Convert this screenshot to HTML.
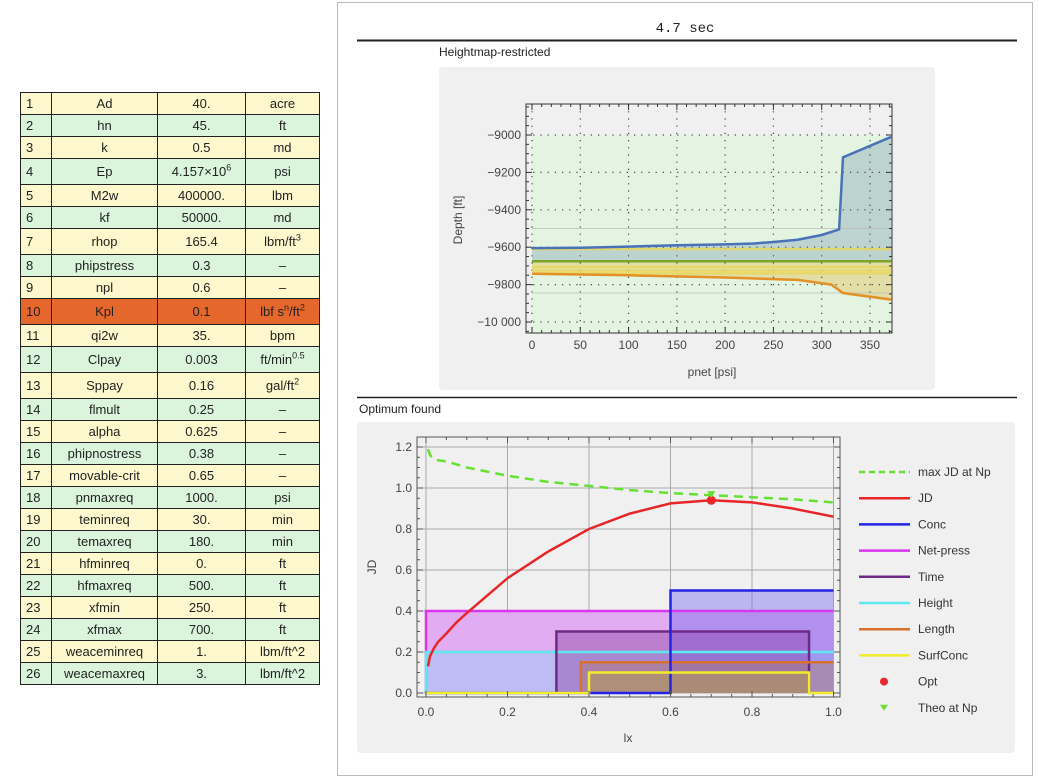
<!DOCTYPE html>
<html><head><meta charset="utf-8"><style>
body{margin:0;width:1039px;height:779px;background:#fff;position:relative;overflow:hidden;font-family:"Liberation Sans",sans-serif}
table{position:absolute;left:20px;top:92px;border-collapse:collapse;font-size:13px;color:#222}
td{border:1px solid #222;text-align:center;padding:0;height:21px;line-height:16px}
td.n{width:31px;text-align:left;padding-left:5px;box-sizing:border-box}
td.a{width:105px}td.b{width:87px}td.c{width:73px}
tr.y td{background:#fdf8cd}tr.g td{background:#daf5dc}tr.o td{background:#e6672b}
tr.t td{height:25px}
sup{font-size:9px;line-height:0}
svg{position:absolute;left:0;top:0}
</style></head><body>
<table>
<tr class="y"><td class="n">1</td><td class="a">Ad</td><td class="b">40.</td><td class="c">acre</td></tr>
<tr class="g"><td class="n">2</td><td class="a">hn</td><td class="b">45.</td><td class="c">ft</td></tr>
<tr class="y"><td class="n">3</td><td class="a">k</td><td class="b">0.5</td><td class="c">md</td></tr>
<tr class="g t"><td class="n">4</td><td class="a">Ep</td><td class="b">4.157×10<sup>6</sup></td><td class="c">psi</td></tr>
<tr class="y"><td class="n">5</td><td class="a">M2w</td><td class="b">400000.</td><td class="c">lbm</td></tr>
<tr class="g"><td class="n">6</td><td class="a">kf</td><td class="b">50000.</td><td class="c">md</td></tr>
<tr class="y t"><td class="n">7</td><td class="a">rhop</td><td class="b">165.4</td><td class="c">lbm/ft<sup>3</sup></td></tr>
<tr class="g"><td class="n">8</td><td class="a">phipstress</td><td class="b">0.3</td><td class="c">–</td></tr>
<tr class="y"><td class="n">9</td><td class="a">npl</td><td class="b">0.6</td><td class="c">–</td></tr>
<tr class="o t"><td class="n">10</td><td class="a">Kpl</td><td class="b">0.1</td><td class="c">lbf s<sup>n</sup>/ft<sup>2</sup></td></tr>
<tr class="y"><td class="n">11</td><td class="a">qi2w</td><td class="b">35.</td><td class="c">bpm</td></tr>
<tr class="g t"><td class="n">12</td><td class="a">Clpay</td><td class="b">0.003</td><td class="c">ft/min<sup>0.5</sup></td></tr>
<tr class="y t"><td class="n">13</td><td class="a">Sppay</td><td class="b">0.16</td><td class="c">gal/ft<sup>2</sup></td></tr>
<tr class="g"><td class="n">14</td><td class="a">flmult</td><td class="b">0.25</td><td class="c">–</td></tr>
<tr class="y"><td class="n">15</td><td class="a">alpha</td><td class="b">0.625</td><td class="c">–</td></tr>
<tr class="g"><td class="n">16</td><td class="a">phipnostress</td><td class="b">0.38</td><td class="c">–</td></tr>
<tr class="y"><td class="n">17</td><td class="a">movable-crit</td><td class="b">0.65</td><td class="c">–</td></tr>
<tr class="g"><td class="n">18</td><td class="a">pnmaxreq</td><td class="b">1000.</td><td class="c">psi</td></tr>
<tr class="y"><td class="n">19</td><td class="a">teminreq</td><td class="b">30.</td><td class="c">min</td></tr>
<tr class="g"><td class="n">20</td><td class="a">temaxreq</td><td class="b">180.</td><td class="c">min</td></tr>
<tr class="y"><td class="n">21</td><td class="a">hfminreq</td><td class="b">0.</td><td class="c">ft</td></tr>
<tr class="g"><td class="n">22</td><td class="a">hfmaxreq</td><td class="b">500.</td><td class="c">ft</td></tr>
<tr class="y"><td class="n">23</td><td class="a">xfmin</td><td class="b">250.</td><td class="c">ft</td></tr>
<tr class="g"><td class="n">24</td><td class="a">xfmax</td><td class="b">700.</td><td class="c">ft</td></tr>
<tr class="y"><td class="n">25</td><td class="a">weaceminreq</td><td class="b">1.</td><td class="c">lbm/ft^2</td></tr>
<tr class="g"><td class="n">26</td><td class="a">weacemaxreq</td><td class="b">3.</td><td class="c">lbm/ft^2</td></tr>
</table>
<svg id="s" width="1039" height="779" xmlns="http://www.w3.org/2000/svg" font-family="Liberation Sans, sans-serif">
<rect x="337.5" y="2.5" width="695" height="773" fill="none" stroke="#bbb"/>
<text x="685" y="32" font-family="Liberation Mono, monospace" font-size="14" text-anchor="middle" fill="#222">4.7 sec</text>
<line x1="357" y1="40.5" x2="1017" y2="40.5" stroke="#222" stroke-width="2"/>
<text x="439" y="56" font-size="12" fill="#222">Heightmap-restricted</text>
<rect x="439" y="67" width="496" height="323" rx="4" fill="#f0f0f0"/>
<line x1="357" y1="397.5" x2="1017" y2="397.5" stroke="#222" stroke-width="1.5"/>
<text x="359" y="413" font-size="12" fill="#222">Optimum found</text>
<rect x="357" y="422" width="658" height="331" rx="4" fill="#f0f0f0"/>
<g id="top"></g><g id="bot"></g>
</svg>
<script>
const NS="http://www.w3.org/2000/svg";
function mk(p,tag,at,txt){const e=document.createElementNS(NS,tag);for(const k in at)e.setAttribute(k,at[k]);if(txt!==undefined)e.textContent=txt;p.appendChild(e);return e;}
// ---- top chart data ----
const pnetBlue=[0,50,100,150,200,230,250,275,300,318,322,372];
const depthBlue=[-9605,-9603,-9597,-9590,-9585,-9580,-9572,-9560,-9535,-9505,-9120,-9010];
const pnetOrange=[0,100,200,275,310,322,372];
const depthOrange=[-9742,-9750,-9762,-9775,-9800,-9845,-9880];
const yellowLevels=[-9610,-9705,-9725,-9740];
const greenLevel=-9675;
const grayLevels=[-9500,-9845];
const topXTicks=[0,50,100,150,200,250,300,350];
const topYTicks=[-9000,-9200,-9400,-9600,-9800,-10000];
const topYLabels=["−9000","−9200","−9400","−9600","−9800","−10 000"];
const pMax=372;
// ---- bottom chart data ----
const lx=[0.005,0.01,0.02,0.03,0.05,0.075,0.1,0.2,0.3,0.4,0.5,0.6,0.7,0.8,0.9,1.0];
const jd=[0.13,0.18,0.22,0.25,0.29,0.345,0.39,0.56,0.69,0.80,0.875,0.925,0.94,0.93,0.90,0.86];
const maxJd=[1.19,1.16,1.14,1.135,1.13,1.115,1.10,1.06,1.03,1.01,0.99,0.975,0.965,0.955,0.945,0.93];
const concX=[0,0.4,0.6,1.0]; const concY=[0,0,0.5,0.5];
const netPress=[0,1.0,0.4];
const height=[0,1.0,0.2];
const timeStep=[0.32,0.94,0.3];
const lengthStep=[0.38,1.0,0.15];
const surfX=[0,0.4,0.94,1.0]; const surfY=[0,0.1,0,0];
const opt=[0.7,0.94]; const theo=[0.7,0.965];
const botXTicks=[0,0.2,0.4,0.6,0.8,1.0];
const botXLabels=["0.0","0.2","0.4","0.6","0.8","1.0"];
const botYTicks=[0,0.2,0.4,0.6,0.8,1.0,1.2];
const botYLabels=["0.0","0.2","0.4","0.6","0.8","1.0","1.2"];
const legendNames=["max JD at Np","JD","Conc","Net-press","Time","Height","Length","SurfConc","Opt","Theo at Np"];
const legendColors=["#66e033","#e8262a","#2323e6","#d936f0","#6d2a86","#5ee8f0","#d9712e","#f2ec2a","#e8262a","#66e033"];

const T=document.getElementById('top');
const tx=p=>532+p*0.9657, ty=d=>135+(-9000-d)*0.187;
mk(T,'rect',{x:tx(0),y:ty(-9000),width:tx(pMax)-tx(0),height:333-ty(-9000),fill:'#e3f5e1'});
function poly(xs,ys,fx,fy){return xs.map((v,i)=>fx(v).toFixed(1)+','+fy(ys[i]).toFixed(1)).join(' ');}
let bf=mk(T,'polygon',{points:poly(pnetBlue,depthBlue,tx,ty)+' '+tx(pMax)+','+ty(greenLevel)+' '+tx(0)+','+ty(greenLevel),fill:'#bcd3d0'});


let of=mk(T,'polygon',{points:tx(0)+','+ty(greenLevel)+' '+tx(pMax)+','+ty(greenLevel)+' '+poly(pnetOrange.slice().reverse(),depthOrange.slice().reverse(),tx,ty),fill:'#e2dea6'});


grayLevels.forEach(d=>mk(T,'line',{x1:tx(0),x2:tx(pMax),y1:ty(d),y2:ty(d),stroke:'#bbb','stroke-width':0.7}));
topXTicks.forEach(p=>{mk(T,'line',{x1:tx(p),x2:tx(p),y1:104,y2:333,stroke:'#444','stroke-dasharray':'1.2,6','stroke-width':1.2});
 const t=mk(T,'text',{x:tx(p),y:349,'font-size':12,'text-anchor':'middle',fill:'#444'},String(p));
 
 });
topYTicks.forEach((d,i)=>{mk(T,'line',{x1:526,x2:892,y1:ty(d),y2:ty(d),stroke:'#444','stroke-dasharray':'1.2,6','stroke-width':1.2});
 const t=mk(T,'text',{x:521,y:ty(d)+4,'font-size':12,'text-anchor':'end',fill:'#444'},topYLabels[i]);
 
 });
yellowLevels.forEach(d=>mk(T,'line',{x1:tx(0),x2:tx(pMax),y1:ty(d),y2:ty(d),stroke:'#e8d85a','stroke-width':2.5,opacity:0.8}));
mk(T,'line',{x1:tx(0),x2:tx(pMax),y1:ty(greenLevel),y2:ty(greenLevel),stroke:'#7aa32a','stroke-width':2.5});
let bl=mk(T,'polyline',{points:poly(pnetBlue,depthBlue,tx,ty),fill:'none',stroke:'#4a72b8','stroke-width':2.5});


let ol=mk(T,'polyline',{points:poly(pnetOrange,depthOrange,tx,ty),fill:'none',stroke:'#e39027','stroke-width':2.5});


mk(T,'rect',{x:526,y:104,width:366,height:229,fill:'none',stroke:'#333'});
for(let p=0;p<=370;p+=10){const big=p%50==0;mk(T,'line',{x1:tx(p),x2:tx(p),y1:333,y2:333-(big?6:3),stroke:'#333'});mk(T,'line',{x1:tx(p),x2:tx(p),y1:104,y2:104+(big?6:3),stroke:'#333'});}
for(let d=-8850;d>=-10050;d-=50){const big=d%200==0;mk(T,'line',{x1:526,x2:526+(big?6:3),y1:ty(d),y2:ty(d),stroke:'#333'});mk(T,'line',{x1:892,x2:892-(big?6:3),y1:ty(d),y2:ty(d),stroke:'#333'});}
let a1=mk(T,'text',{x:0,y:0,'font-size':12,fill:'#444','text-anchor':'middle',transform:'translate(462,220) rotate(-90)'},'Depth  [ft]');


let a2=mk(T,'text',{x:712,y:376,'font-size':12,fill:'#444','text-anchor':'middle'},'pnet [psi]');



const B=document.getElementById('bot');
const bx=v=>426+v*407.5, by=v=>693-v*205;
botXTicks.forEach((v,i)=>{mk(B,'line',{x1:bx(v),x2:bx(v),y1:437,y2:697,stroke:'#aaa'});
 const t=mk(B,'text',{x:bx(v),y:716,'font-size':12,'text-anchor':'middle',fill:'#444'},botXLabels[i]);
 
 });
botYTicks.forEach((v,i)=>{mk(B,'line',{x1:417,x2:840,y1:by(v),y2:by(v),stroke:'#aaa'});
 const t=mk(B,'text',{x:412,y:by(v)+4,'font-size':12,'text-anchor':'end',fill:'#444'},botYLabels[i]);
 
 });
function stepFill(x0,x1,y,col,name,op){const r=mk(B,'rect',{x:bx(x0),y:by(y),width:bx(x1)-bx(x0),height:by(0)-by(y),fill:col,opacity:op});
 
 }
stepFill(height[0],height[1],netPress[2],'#b9c1f5','net-press-fill-base',1);
stepFill(netPress[0],netPress[1],netPress[2],'#e8a8f0',"net-press-fill",0.85);
stepFill(height[0],height[1],height[2],'#b6c0f5','height-fill',0.8);
stepFill(concX[2],concX[3],concY[2],'#7a6ef0','conc-fill',0.45);
stepFill(timeStep[0],timeStep[1],timeStep[2],'#8a3aa0','time-fill',0.4);
stepFill(lengthStep[0],lengthStep[1],lengthStep[2],'#b07a6a','length-fill',0.45);
stepFill(surfX[1],surfX[2],surfY[1],'#b09a5a','surfconc-fill',0.6);
function hline(s,col,name,w){const l=mk(B,'polyline',{points:`${bx(s[0])},${by(0)} ${bx(s[0])},${by(s[2])} ${bx(s[1])},${by(s[2])}`+(s[1]<1?` ${bx(s[1])},${by(0)}`:''),fill:'none',stroke:col,'stroke-width':w||2.5});
 
 }
hline(netPress,'#d936f0','net-press-line');
hline(height,'#5ee8f0','height-line');
hline(timeStep,'#6d2a86','time-line');
hline(lengthStep,'#d9712e','length-line');
function stepLine(xs,ys,col,name){let pts=[];for(let i=0;i<xs.length;i++){if(i>0)pts.push(bx(xs[i])+','+by(ys[i-1]));pts.push(bx(xs[i])+','+by(ys[i]));}
 const l=mk(B,'polyline',{points:pts.join(' '),fill:'none',stroke:col,'stroke-width':2.5});
 
 }
stepLine(concX,concY,'#2323e6','conc-line');
stepLine(surfX,surfY,'#f2ec2a','surfconc-line');
let md=mk(B,'polyline',{points:poly(lx,maxJd,bx,by),fill:'none',stroke:'#66e033','stroke-width':2.5,'stroke-dasharray':'9,6'});


let jl=mk(B,'polyline',{points:poly(lx,jd,bx,by),fill:'none',stroke:'#e8262a','stroke-width':2.5});


let od=mk(B,'circle',{cx:bx(opt[0]),cy:by(opt[1]),r:4.5,fill:'#e8262a'});


let tt=mk(B,'polygon',{points:`${bx(theo[0])-4},${by(theo[1])-4} ${bx(theo[0])+4},${by(theo[1])-4} ${bx(theo[0])},${by(theo[1])+3}`,fill:'#66e033'});


mk(B,'rect',{x:417,y:437,width:423,height:260,fill:'none',stroke:'#555'});
for(let v=0;v<=1.0001;v+=0.05){const big=Math.abs(v*5-Math.round(v*5))<1e-6;mk(B,'line',{x1:bx(v),x2:bx(v),y1:697,y2:697-(big?6:3),stroke:'#555'});mk(B,'line',{x1:bx(v),x2:bx(v),y1:437,y2:437+(big?6:3),stroke:'#555'});}
for(let v=0;v<=1.22;v+=0.05){const big=Math.abs(v*5-Math.round(v*5))<1e-6;mk(B,'line',{x1:417,x2:417+(big?6:3),y1:by(v),y2:by(v),stroke:'#555'});mk(B,'line',{x1:840,x2:840-(big?6:3),y1:by(v),y2:by(v),stroke:'#555'});}
let b1=mk(B,'text',{x:0,y:0,'font-size':12,fill:'#444','text-anchor':'middle',transform:'translate(376,567) rotate(-90)'},'JD');


let b2=mk(B,'text',{x:628,y:742,'font-size':12,fill:'#444','text-anchor':'middle'},'lx');


legendNames.forEach((n,i)=>{const y=472+i*26.2;
 const g=mk(B,'g',{});
 
 
 if(i<8)mk(g,'line',{x1:859,x2:910,y1:y,y2:y,stroke:legendColors[i],'stroke-width':2.5,'stroke-dasharray':i==0?'6,4':'none'});
 else if(i==8)mk(g,'circle',{cx:884,cy:y,r:4,fill:legendColors[i]});
 else mk(g,'polygon',{points:`${880},${y-3} ${888},${y-3} ${884},${y+3}`,fill:legendColors[i]});
 mk(g,'text',{x:918,y:y+4,'font-size':12,fill:'#333'},n);});
</script>
</body></html>
